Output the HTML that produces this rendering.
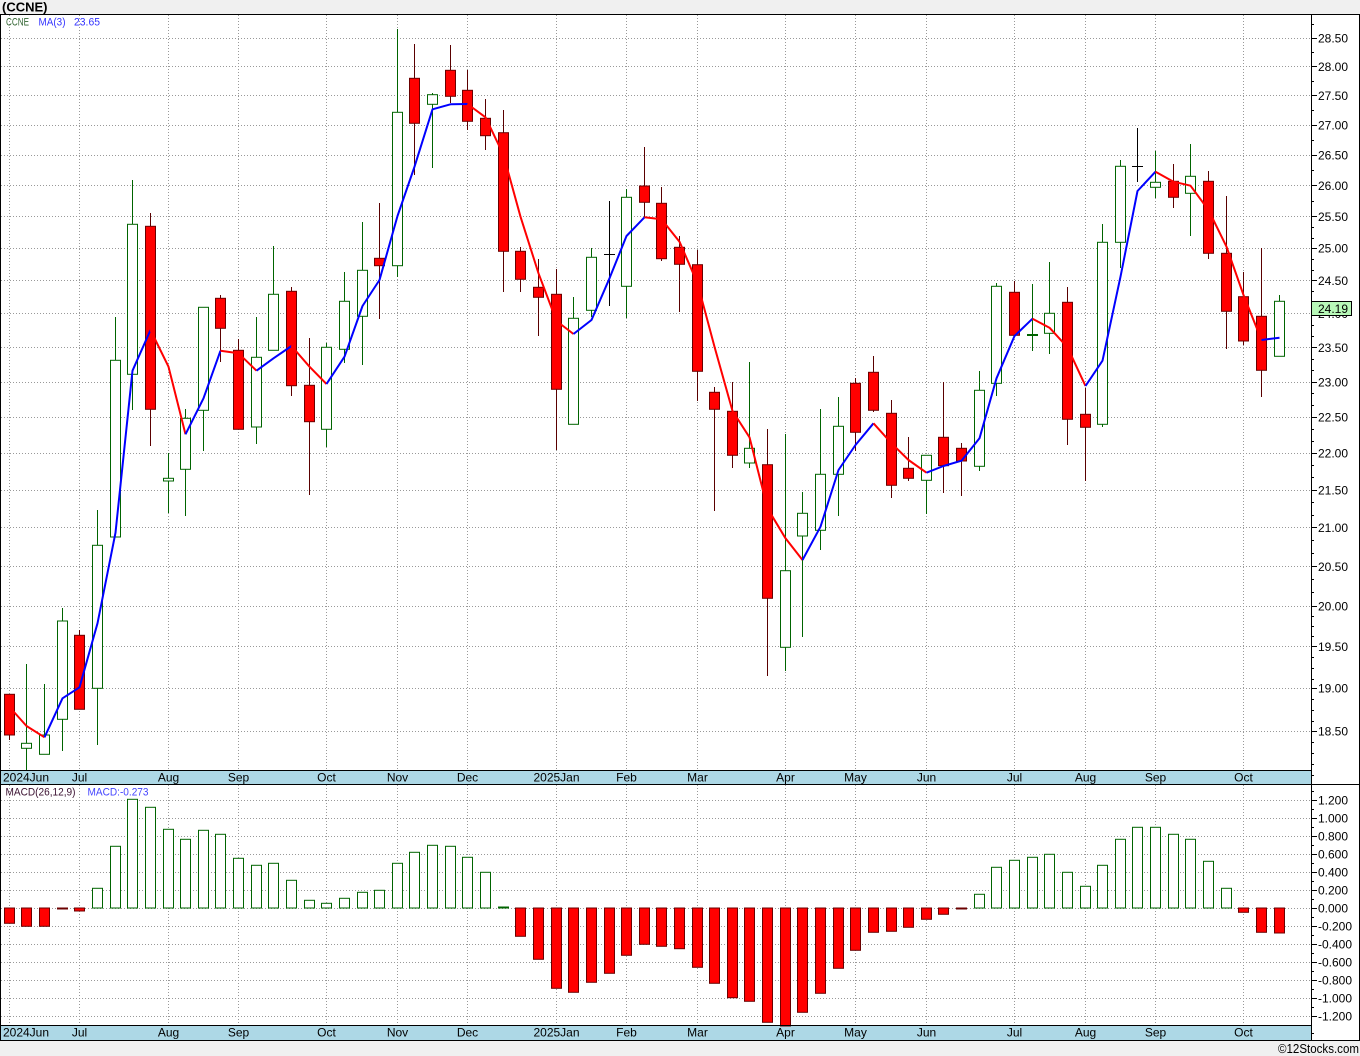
<!DOCTYPE html>
<html><head><meta charset="utf-8"><style>
html,body{margin:0;padding:0;background:#fff}
svg{display:block}
text{font-family:"Liberation Sans",sans-serif;font-size:12px;fill:#000}
.gr{stroke:#999;stroke-width:1;stroke-dasharray:1 2;fill:none}
.rw{stroke:#5a0000;stroke-width:1;fill:none}
.gw{stroke:#006400;stroke-width:1;fill:none}
.rb rect{fill:#ff0000;stroke:#6b0000;stroke-width:1}
.gb rect{fill:#fff;stroke:#006400;stroke-width:1}
.bd{stroke:#000;stroke-width:1;fill:none}
.tk{stroke:#000;stroke-width:1;fill:none}
</style></head><body>
<svg width="1360" height="1056" viewBox="0 0 1360 1056" xmlns="http://www.w3.org/2000/svg">
<rect x="0" y="0" width="1360" height="1056" fill="#fff"/>
<rect x="0" y="0" width="1360" height="14" fill="#f0f0f0"/>
<rect x="0" y="1040" width="1360" height="16" fill="#f0f0f0"/>
<rect x="0" y="770" width="1311" height="14" fill="#add8e6"/>
<rect x="0" y="1025" width="1311" height="15" fill="#add8e6"/>

<!-- main grid -->
<path class="gr" d="M1 38.5H1311M1 66.5H1311M1 95.5H1311M1 125.5H1311M1 155.5H1311M1 185.5H1311M1 216.5H1311M1 248.5H1311M1 280.5H1311M1 313.5H1311M1 347.5H1311M1 382.5H1311M1 417.5H1311M1 453.5H1311M1 490.5H1311M1 527.5H1311M1 566.5H1311M1 606.5H1311M1 646.5H1311M1 688.5H1311M1 731.5H1311"/>
<path class="gr" d="M9.5 15V770M79.5 15V770M168.5 15V770M238.5 15V770M326.5 15V770M397.5 15V770M467.5 15V770M556.5 15V770M626.5 15V770M697.5 15V770M785.5 15V770M855.5 15V770M926.5 15V770M1014.5 15V770M1085.5 15V770M1155.5 15V770M1243.5 15V770"/>
<!-- macd grid -->
<path class="gr" d="M1 800.5H1311M1 818.5H1311M1 836.5H1311M1 854.5H1311M1 872.5H1311M1 890.5H1311M1 908.5H1311M1 926.5H1311M1 944.5H1311M1 962.5H1311M1 980.5H1311M1 998.5H1311M1 1016.5H1311"/>
<path class="gr" d="M9.5 785V1025M79.5 785V1025M168.5 785V1025M238.5 785V1025M326.5 785V1025M397.5 785V1025M467.5 785V1025M556.5 785V1025M626.5 785V1025M697.5 785V1025M785.5 785V1025M855.5 785V1025M926.5 785V1025M1014.5 785V1025M1085.5 785V1025M1155.5 785V1025M1243.5 785V1025"/>

<!-- wicks -->
<path class="rw" d="M9.5 694V740M79.5 630V709M150.5 213V446M220.5 295V362M238.5 339V429M291.5 287V396M309.5 338V495M379.5 203V319M414.5 44V175M450.5 45V103M467.5 70V130M485.5 99V150M503.5 110V292M520.5 247V292M538.5 259V336M556.5 269V450M644.5 147V217M661.5 187V261M679.5 236V312M697.5 250V401M714.5 387V511M732.5 382V468M767.5 429V676M855.5 378V451M873.5 356V412M891.5 400V498M908.5 437V481M943.5 382V493M961.5 443V496M1014.5 281V335M1067.5 287V445M1085.5 388V481M1173.5 164V208M1208.5 171V259M1226.5 196V349M1243.5 272V345M1261.5 248V397"/>
<path class="gw" d="M26.5 664V770M44.5 684V754M62.5 608V751M97.5 510V745M115.5 317V537M132.5 180V410M168.5 453V513M185.5 409V516M203.5 307V451M256.5 317V444M273.5 246V350M326.5 343V447M344.5 272V363M362.5 222V365M397.5 29V277M432.5 93V168M573.5 297V424M591.5 248V317M626.5 189V318M749.5 362V468M785.5 434V671M802.5 492V637M820.5 409V550M838.5 397V516M926.5 455V514M979.5 371V471M996.5 283V396M1032.5 284V351M1049.5 262V354M1102.5 224V427M1120.5 160V268M1155.5 151V198M1190.5 144V236M1279.5 295V356"/>
<path d="M609.5 201V306M604 254.5H615M1137.5 128V182M1132 166.5H1143" stroke="#000" stroke-width="1" fill="none"/>
<path d="M1027 335H1038" stroke="#006400" stroke-width="2" fill="none"/>

<!-- red bodies -->
<g class="rb">
<rect x="4.5" y="694.3" width="10" height="40.7"/>
<rect x="74.5" y="635.3" width="10" height="74"/>
<rect x="145.5" y="226.3" width="10" height="183"/>
<rect x="215.5" y="298.3" width="10" height="30"/>
<rect x="233.5" y="350.3" width="10" height="79"/>
<rect x="286.5" y="291.3" width="10" height="94.4"/>
<rect x="304.5" y="385.3" width="10" height="36.4"/>
<rect x="374.5" y="258.3" width="10" height="7.4"/>
<rect x="409.5" y="78.3" width="10" height="45"/>
<rect x="445.5" y="70.3" width="10" height="26"/>
<rect x="462.5" y="90.3" width="10" height="31"/>
<rect x="480.5" y="118.3" width="10" height="17.4"/>
<rect x="498.5" y="132.7" width="10" height="118.6"/>
<rect x="515.5" y="251.3" width="10" height="28"/>
<rect x="533.5" y="287.3" width="10" height="10"/>
<rect x="551.5" y="294.3" width="10" height="95"/>
<rect x="639.5" y="186" width="10" height="16.3"/>
<rect x="656.5" y="203.3" width="10" height="55.4"/>
<rect x="674.5" y="247.3" width="10" height="17"/>
<rect x="692.5" y="264.7" width="10" height="106.6"/>
<rect x="709.5" y="392.3" width="10" height="17"/>
<rect x="727.5" y="411.3" width="10" height="44"/>
<rect x="762.5" y="464.7" width="10" height="133.6"/>
<rect x="850.5" y="383.3" width="10" height="49"/>
<rect x="868.5" y="372.3" width="10" height="38"/>
<rect x="886.5" y="413.3" width="10" height="72"/>
<rect x="903.5" y="468.3" width="10" height="10"/>
<rect x="938.5" y="437.3" width="10" height="28.4"/>
<rect x="956.5" y="448.3" width="10" height="12.7"/>
<rect x="1009.5" y="292.3" width="10" height="43"/>
<rect x="1062.5" y="302.3" width="10" height="117"/>
<rect x="1080.5" y="414.3" width="10" height="13"/>
<rect x="1168.5" y="181.3" width="10" height="16"/>
<rect x="1203.5" y="181.3" width="10" height="72"/>
<rect x="1221.5" y="253.3" width="10" height="58"/>
<rect x="1238.5" y="296.7" width="10" height="44.3"/>
<rect x="1256.5" y="316.3" width="10" height="54"/>
</g>
<!-- green bodies -->
<g class="gb">
<rect x="21.5" y="743.3" width="10" height="5"/>
<rect x="39.5" y="735" width="10" height="19.3"/>
<rect x="57.5" y="621" width="10" height="98.3"/>
<rect x="92.5" y="545.3" width="10" height="143"/>
<rect x="110.5" y="360.3" width="10" height="176.7"/>
<rect x="127.5" y="224.3" width="10" height="150"/>
<rect x="163.5" y="478.3" width="10" height="2.7"/>
<rect x="180.5" y="418.3" width="10" height="51"/>
<rect x="198.5" y="307.3" width="10" height="103"/>
<rect x="251.5" y="357.3" width="10" height="69.7"/>
<rect x="268.5" y="294.3" width="10" height="56"/>
<rect x="321.5" y="347.3" width="10" height="82"/>
<rect x="339.5" y="301.3" width="10" height="48"/>
<rect x="357.5" y="270.3" width="10" height="46"/>
<rect x="392.5" y="112.3" width="10" height="153.4"/>
<rect x="427.5" y="94.7" width="10" height="9.6"/>
<rect x="568.5" y="318.3" width="10" height="106"/>
<rect x="586.5" y="257.3" width="10" height="53"/>
<rect x="621.5" y="197.3" width="10" height="89"/>
<rect x="744.5" y="448.3" width="10" height="14.7"/>
<rect x="780.5" y="570.7" width="10" height="76.6"/>
<rect x="797.5" y="513.3" width="10" height="22.7"/>
<rect x="815.5" y="474.3" width="10" height="56"/>
<rect x="833.5" y="426.3" width="10" height="48"/>
<rect x="921.5" y="455.3" width="10" height="25"/>
<rect x="974.5" y="390.3" width="10" height="76"/>
<rect x="991.5" y="286.3" width="10" height="97"/>
<rect x="1044.5" y="313.3" width="10" height="20"/>
<rect x="1097.5" y="242.3" width="10" height="182"/>
<rect x="1115.5" y="166.3" width="10" height="76"/>
<rect x="1150.5" y="182.3" width="10" height="5"/>
<rect x="1185.5" y="176.3" width="10" height="17"/>
<rect x="1274.5" y="301.3" width="10" height="55"/>
</g>

<!-- MA(3) -->
<g fill="none" stroke-width="2" stroke-linejoin="round">
<polyline stroke="#ff0000" points="9.5,707 26.5,726 44.5,737.3"/>
<polyline stroke="#0000ff" points="44.5,737.3 62.5,698.3 79.5,687.3 97.5,623.3 115.5,532.7 132.5,370.7 150.5,330"/>
<polyline stroke="#ff0000" points="150.5,330 168.5,366.7 185.5,434.3"/>
<polyline stroke="#0000ff" points="185.5,434.3 203.5,398.3 220.5,350.7"/>
<polyline stroke="#ff0000" points="220.5,350.7 238.5,353.3 256.5,370.7"/>
<polyline stroke="#0000ff" points="256.5,370.7 273.5,358.3 291.5,346"/>
<polyline stroke="#ff0000" points="291.5,346 309.5,366.7 326.5,384"/>
<polyline stroke="#0000ff" points="326.5,384 344.5,356.7 362.5,306 379.5,280 397.5,216 414.5,166.7 432.5,109.3 450.5,104.3 467.5,104"/>
<polyline stroke="#ff0000" points="467.5,104 485.5,117.3 503.5,155 520.5,216.7 538.5,273.3 556.5,321 573.5,334"/>
<polyline stroke="#0000ff" points="573.5,334 591.5,320 609.5,278.3 626.5,236 644.5,217.3"/>
<polyline stroke="#ff0000" points="644.5,217.3 661.5,219.3 679.5,241.7 697.5,283.3 714.5,346.7 732.5,411 749.5,437.3 767.5,508.3 785.5,538.3 802.5,560"/>
<polyline stroke="#0000ff" points="802.5,560 820.5,526.7 838.5,470 855.5,445 873.5,423.3"/>
<polyline stroke="#ff0000" points="873.5,423.3 891.5,443.3 908.5,460 926.5,472.7"/>
<polyline stroke="#0000ff" points="926.5,472.7 943.5,466 961.5,460.7 979.5,438.3 996.5,378.3 1014.5,336 1032.5,318.7"/>
<polyline stroke="#ff0000" points="1032.5,318.7 1049.5,327.7 1067.5,347.3 1085.5,386"/>
<polyline stroke="#0000ff" points="1085.5,386 1102.5,360.7 1120.5,276.7 1137.5,191 1155.5,171.7"/>
<polyline stroke="#ff0000" points="1155.5,171.7 1173.5,181.7 1190.5,185.7 1208.5,210 1226.5,246.7 1243.5,295 1261.5,340"/>
<polyline stroke="#0000ff" points="1261.5,340 1279.5,337.7"/>
</g>

<!-- MACD red bars -->
<g class="rb">
<rect x="4.5" y="908" width="10" height="15.3"/>
<rect x="21.5" y="908" width="10" height="18.3"/>
<rect x="39.5" y="908" width="10" height="18.3"/>
<rect x="74.5" y="908" width="10" height="3"/>
<rect x="515.5" y="908" width="10" height="28.3"/>
<rect x="533.5" y="908" width="10" height="51.3"/>
<rect x="551.5" y="908" width="10" height="80.3"/>
<rect x="568.5" y="908" width="10" height="84.3"/>
<rect x="586.5" y="908" width="10" height="74.3"/>
<rect x="604.5" y="908" width="10" height="65.3"/>
<rect x="621.5" y="908" width="10" height="47.3"/>
<rect x="639.5" y="908" width="10" height="36.3"/>
<rect x="656.5" y="908" width="10" height="38.3"/>
<rect x="674.5" y="908" width="10" height="40.7"/>
<rect x="692.5" y="908" width="10" height="59.3"/>
<rect x="709.5" y="908" width="10" height="75.3"/>
<rect x="727.5" y="908" width="10" height="89.7"/>
<rect x="744.5" y="908" width="10" height="93.3"/>
<rect x="762.5" y="908" width="10" height="114.3"/>
<rect x="780.5" y="908" width="10" height="118"/>
<rect x="797.5" y="908" width="10" height="104.3"/>
<rect x="815.5" y="908" width="10" height="85.3"/>
<rect x="833.5" y="908" width="10" height="60.3"/>
<rect x="850.5" y="908" width="10" height="42.3"/>
<rect x="868.5" y="908" width="10" height="24.3"/>
<rect x="886.5" y="908" width="10" height="23.3"/>
<rect x="903.5" y="908" width="10" height="19.3"/>
<rect x="921.5" y="908" width="10" height="11.3"/>
<rect x="938.5" y="908" width="10" height="6.3"/>
<rect x="1238.5" y="908" width="10" height="4.3"/>
<rect x="1256.5" y="908" width="10" height="24.3"/>
<rect x="1274.5" y="908" width="10" height="25"/>
</g>
<path d="M57 908.5H68M956 908.5H967" stroke="#6b0000" stroke-width="2" fill="none"/>
<path d="M498 907.5H509" stroke="#006400" stroke-width="2" fill="none"/>
<!-- MACD green bars -->
<g class="gb">
<rect x="92.5" y="888.3" width="10" height="19.7"/>
<rect x="110.5" y="846.3" width="10" height="61.7"/>
<rect x="127.5" y="799.3" width="10" height="108.7"/>
<rect x="145.5" y="807.3" width="10" height="100.7"/>
<rect x="163.5" y="829.3" width="10" height="78.7"/>
<rect x="180.5" y="839.3" width="10" height="68.7"/>
<rect x="198.5" y="830.3" width="10" height="77.7"/>
<rect x="215.5" y="834.3" width="10" height="73.7"/>
<rect x="233.5" y="858.3" width="10" height="49.7"/>
<rect x="251.5" y="865.3" width="10" height="42.7"/>
<rect x="268.5" y="863.3" width="10" height="44.7"/>
<rect x="286.5" y="880.3" width="10" height="27.7"/>
<rect x="304.5" y="900.3" width="10" height="7.7"/>
<rect x="321.5" y="903.3" width="10" height="4.7"/>
<rect x="339.5" y="898.3" width="10" height="9.7"/>
<rect x="357.5" y="892.3" width="10" height="15.7"/>
<rect x="374.5" y="890.3" width="10" height="17.7"/>
<rect x="392.5" y="863.3" width="10" height="44.7"/>
<rect x="409.5" y="852.3" width="10" height="55.7"/>
<rect x="427.5" y="845.3" width="10" height="62.7"/>
<rect x="445.5" y="846.3" width="10" height="61.7"/>
<rect x="462.5" y="857.3" width="10" height="50.7"/>
<rect x="480.5" y="872.3" width="10" height="35.7"/>
<rect x="974.5" y="894.3" width="10" height="13.7"/>
<rect x="991.5" y="867.3" width="10" height="40.7"/>
<rect x="1009.5" y="860.3" width="10" height="47.7"/>
<rect x="1027.5" y="857.3" width="10" height="50.7"/>
<rect x="1044.5" y="854.3" width="10" height="53.7"/>
<rect x="1062.5" y="872.3" width="10" height="35.7"/>
<rect x="1080.5" y="886.3" width="10" height="21.7"/>
<rect x="1097.5" y="865.3" width="10" height="42.7"/>
<rect x="1115.5" y="839.3" width="10" height="68.7"/>
<rect x="1132.5" y="827.3" width="10" height="80.7"/>
<rect x="1150.5" y="827.3" width="10" height="80.7"/>
<rect x="1168.5" y="834.3" width="10" height="73.7"/>
<rect x="1185.5" y="839.3" width="10" height="68.7"/>
<rect x="1203.5" y="861.3" width="10" height="46.7"/>
<rect x="1221.5" y="888.3" width="10" height="19.7"/>
</g>

<!-- borders -->
<path class="bd" d="M0 14.5H1360M0.5 14V1040M1359.5 14V1040M1311.5 14V1040M0 770.5H1311M0 784.5H1360M0 1025.5H1311M0 1040.5H1360"/>

<!-- main right ticks -->
<path class="tk" d="M1311 38.5H1317M1311 66.5H1317M1311 95.5H1317M1311 125.5H1317M1311 155.5H1317M1311 185.5H1317M1311 216.5H1317M1311 248.5H1317M1311 280.5H1317M1311 313.5H1317M1311 347.5H1317M1311 382.5H1317M1311 417.5H1317M1311 453.5H1317M1311 490.5H1317M1311 527.5H1317M1311 566.5H1317M1311 606.5H1317M1311 646.5H1317M1311 688.5H1317M1311 731.5H1317"/>
<path class="tk" d="M1311 24.5H1314M1311 52.5H1314M1311 81.5H1314M1311 110.5H1314M1311 140.5H1314M1311 170.5H1314M1311 201.5H1314M1311 227.5H1314M1311 238.5H1314M1311 259.5H1314M1311 270.5H1314M1311 291.5H1314M1311 302.5H1314M1311 325.5H1314M1311 336.5H1314M1311 359.5H1314M1311 370.5H1314M1311 393.5H1314M1311 405.5H1314M1311 429.5H1314M1311 441.5H1314M1311 465.5H1314M1311 477.5H1314M1311 502.5H1314M1311 515.5H1314M1311 540.5H1314M1311 553.5H1314M1311 579.5H1314M1311 592.5H1314M1311 616.5H1314M1311 626.5H1314M1311 636.5H1314M1311 657.5H1314M1311 668.5H1314M1311 679.5H1314M1311 699.5H1314M1311 710.5H1314M1311 721.5H1314M1311 742.5H1314M1311 753.5H1314M1311 764.5H1314M1311 775.5H1314"/>
<!-- macd right ticks -->
<path class="tk" d="M1311 800.5H1317M1311 818.5H1317M1311 836.5H1317M1311 854.5H1317M1311 872.5H1317M1311 890.5H1317M1311 908.5H1317M1311 926.5H1317M1311 944.5H1317M1311 962.5H1317M1311 980.5H1317M1311 998.5H1317M1311 1016.5H1317"/>
<path class="tk" d="M1311 791.5H1314M1311 809.5H1314M1311 827.5H1314M1311 845.5H1314M1311 863.5H1314M1311 881.5H1314M1311 899.5H1314M1311 917.5H1314M1311 935.5H1314M1311 953.5H1314M1311 971.5H1314M1311 989.5H1314M1311 1007.5H1314M1311 1033.5H1314"/>

<!-- main axis labels -->
<g>
<text x="1318" y="42.6">28.50</text>
<text x="1318" y="71">28.00</text>
<text x="1318" y="99.9">27.50</text>
<text x="1318" y="129.3">27.00</text>
<text x="1318" y="159.3">26.50</text>
<text x="1318" y="189.8">26.00</text>
<text x="1318" y="220.9">25.50</text>
<text x="1318" y="252.6">25.00</text>
<text x="1318" y="285">24.50</text>
<text x="1318" y="318.1">24.00</text>
<text x="1318" y="351.8">23.50</text>
<text x="1318" y="386.3">23.00</text>
<text x="1318" y="421.5">22.50</text>
<text x="1318" y="457.6">22.00</text>
<text x="1318" y="494.4">21.50</text>
<text x="1318" y="532.1">21.00</text>
<text x="1318" y="570.8">20.50</text>
<text x="1318" y="610.3">20.00</text>
<text x="1318" y="650.9">19.50</text>
<text x="1318" y="692.6">19.00</text>
<text x="1318" y="735.3">18.50</text>
</g>
<rect x="1311.5" y="301.5" width="40" height="14" fill="#b8f8b8" stroke="#000" stroke-width="1"/>
<text x="1318" y="312.8">24.19</text>

<!-- macd axis labels -->
<g>
<text x="1318" y="804.3">1.200</text>
<text x="1318" y="822.3">1.000</text>
<text x="1318" y="840.3">0.800</text>
<text x="1318" y="858.3">0.600</text>
<text x="1318" y="876.3">0.400</text>
<text x="1318" y="894.3">0.200</text>
<text x="1318" y="912.3">0.000</text>
<text x="1318" y="930.3">-0.200</text>
<text x="1318" y="948.3">-0.400</text>
<text x="1318" y="966.3">-0.600</text>
<text x="1318" y="984.3">-0.800</text>
<text x="1318" y="1002.3">-1.000</text>
<text x="1318" y="1020.3">-1.200</text>
</g>

<!-- date labels top -->
<g text-anchor="middle">
<text x="26" y="781.5">2024Jun</text>
<text x="79.5" y="781.5">Jul</text>
<text x="168.5" y="781.5">Aug</text>
<text x="238.5" y="781.5">Sep</text>
<text x="326.5" y="781.5">Oct</text>
<text x="397.5" y="781.5">Nov</text>
<text x="467.5" y="781.5">Dec</text>
<text x="556.5" y="781.5">2025Jan</text>
<text x="626.5" y="781.5">Feb</text>
<text x="697.5" y="781.5">Mar</text>
<text x="785.5" y="781.5">Apr</text>
<text x="855.5" y="781.5">May</text>
<text x="926.5" y="781.5">Jun</text>
<text x="1014.5" y="781.5">Jul</text>
<text x="1085.5" y="781.5">Aug</text>
<text x="1155.5" y="781.5">Sep</text>
<text x="1243.5" y="781.5">Oct</text>
</g>
<!-- date labels bottom -->
<g text-anchor="middle">
<text x="26" y="1036.5">2024Jun</text>
<text x="79.5" y="1036.5">Jul</text>
<text x="168.5" y="1036.5">Aug</text>
<text x="238.5" y="1036.5">Sep</text>
<text x="326.5" y="1036.5">Oct</text>
<text x="397.5" y="1036.5">Nov</text>
<text x="467.5" y="1036.5">Dec</text>
<text x="556.5" y="1036.5">2025Jan</text>
<text x="626.5" y="1036.5">Feb</text>
<text x="697.5" y="1036.5">Mar</text>
<text x="785.5" y="1036.5">Apr</text>
<text x="855.5" y="1036.5">May</text>
<text x="926.5" y="1036.5">Jun</text>
<text x="1014.5" y="1036.5">Jul</text>
<text x="1085.5" y="1036.5">Aug</text>
<text x="1155.5" y="1036.5">Sep</text>
<text x="1243.5" y="1036.5">Oct</text>
</g>

<!-- header & legends -->
<text x="2" y="11.5" style="font-weight:bold;font-size:13px">(CCNE)</text>
<text x="6" y="25.5" style="font-size:11px;fill:#336633" textLength="23" lengthAdjust="spacingAndGlyphs">CCNE</text>
<text x="38.5" y="25.5" style="font-size:11px;fill:#3333ff" textLength="27" lengthAdjust="spacingAndGlyphs">MA(3)</text>
<text x="74" y="25.5" style="font-size:11px;fill:#3333ff" textLength="26" lengthAdjust="spacingAndGlyphs">23.65</text>
<text x="5.5" y="795.5" style="font-size:11px;fill:#3a1030" textLength="70" lengthAdjust="spacingAndGlyphs">MACD(26,12,9)</text>
<text x="87.5" y="795.5" style="font-size:11px;fill:#4444ff" textLength="61" lengthAdjust="spacingAndGlyphs">MACD:-0.273</text>
<text x="1278" y="1053" style="font-size:13px" textLength="81" lengthAdjust="spacingAndGlyphs">©12Stocks.com</text>
</svg>
</body></html>
